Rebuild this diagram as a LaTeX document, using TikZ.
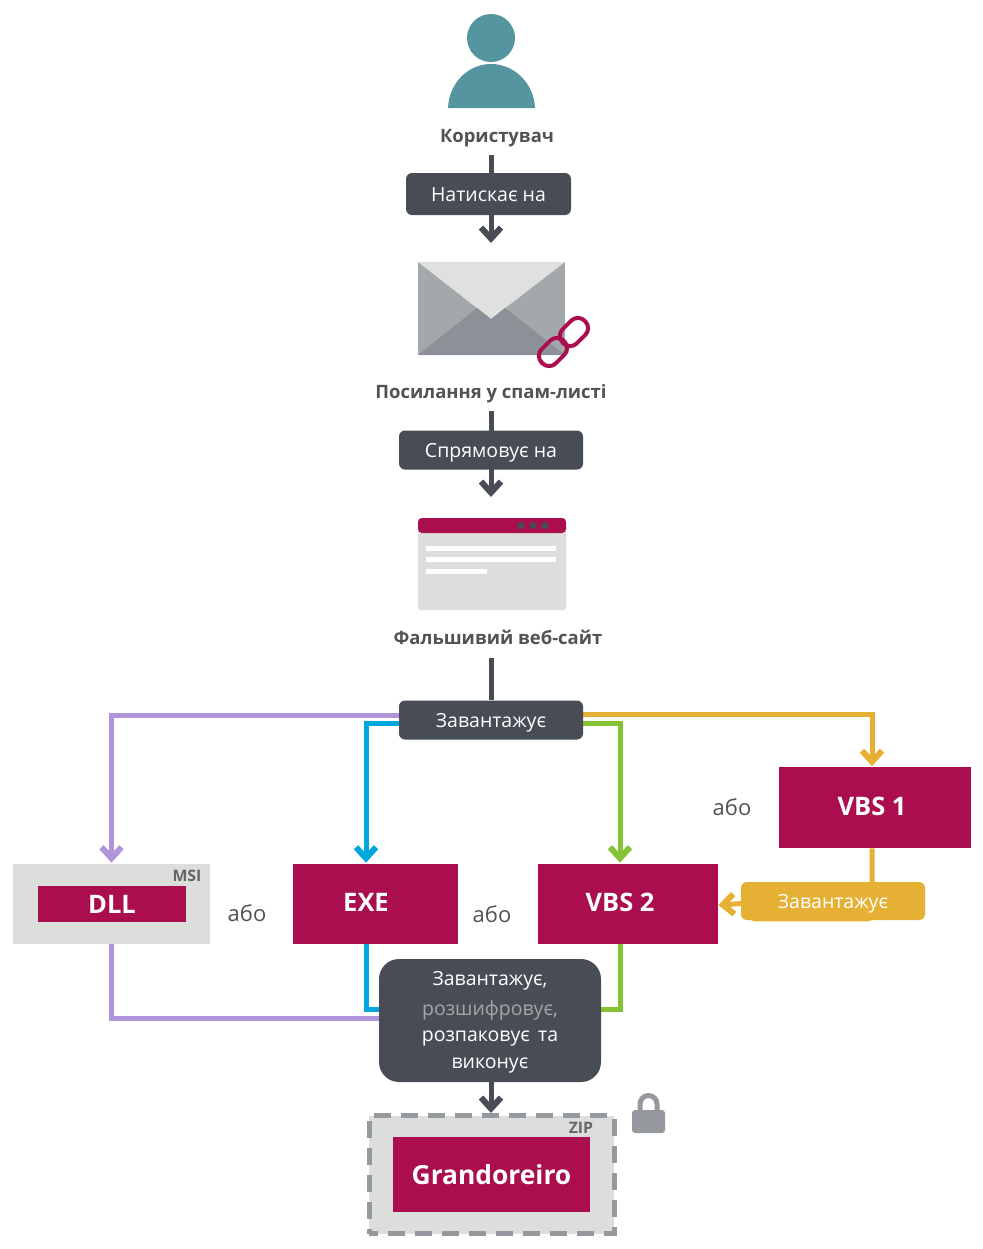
\documentclass[tikz,border=0pt]{standalone}
\usepackage{fontspec}
\setmainfont{Open Sans}
\usetikzlibrary{arrows.meta,backgrounds,calc}

\definecolor{darkpill}{HTML}{474C55}
\definecolor{crimson}{HTML}{AA0E4E}
\definecolor{paleGrey}{HTML}{DCDEDB}
\definecolor{flapGrey}{HTML}{E0E1DE}
\definecolor{sideGrey}{HTML}{A3A8AB}
\definecolor{lowGrey}{HTML}{8B9197}
\definecolor{lockGrey}{HTML}{95999D}
\definecolor{tealUser}{HTML}{5595A0}
\definecolor{purpleLine}{HTML}{B094DC}
\definecolor{blueLine}{HTML}{00A7DC}
\definecolor{greenLine}{HTML}{84C334}
\definecolor{amberLine}{HTML}{E6B035}

\begin{document}
\begin{tikzpicture}[x=0.02cm,y=-0.02cm]
    % --- Dimensions ---
    \def\px{0.02cm}        % one pixel of the reference
    \def\MidX{491}         % x of the central column

    % --- Styles ---
    \tikzset{
        pill/.style={
            fill=darkpill, text=white, rounded corners=6*\px, inner sep=0pt,
            text height=10pt, text depth=2pt,
            font=\fontsize{11.1}{13}\selectfont
        },
        runline/.style={
            text=white, inner sep=0pt, text height=10pt, text depth=2pt,
            font=\fontsize{11.1}{13}\selectfont
        },
        caption/.style={
            text=black!68, inner sep=0pt, text height=10.2pt, text depth=1.1pt,
            font=\bfseries\fontsize{10.5}{13}\selectfont
        },
        redbox/.style={
            fill=crimson, text=white, inner sep=0pt,
            font=\bfseries\fontsize{14.5}{16}\selectfont
        },
        redname/.style={
            text=white, inner sep=0pt,
            font=\bfseries\fontsize{14.5}{16}\selectfont
        },
        greybox/.style={fill=paleGrey, inner sep=0pt},
        tag/.style={text=black!60, inner sep=0pt, font=\bfseries\fontsize{9}{10}\selectfont},
        ortext/.style={text=black!68, inner sep=0pt, font=\fontsize{12.5}{15}\selectfont},
        flow/.style={
            line width=5*\px,
            -{Straight Barb[length=11*\px,width=20*\px,line width=6*\px]}
        },
        link/.style={line width=5*\px},
        chainlink/.style={
            draw=crimson, line width=4*\px, rounded corners=9.5*\px, inner sep=0pt,
            minimum width=31*\px, minimum height=20*\px
        }
    }

    \useasboundingbox (0,0) rectangle (983,1249);

    % =========================================================
    % 1) USER
    % =========================================================
    \fill[tealUser] (491,38) circle (24);
    \fill[tealUser] (448,108) .. controls (449,83) and (468,64) .. (491,64)
      .. controls (514,64) and (534,83) .. (535,108) -- cycle;
    \node[caption] (userName) at (497,134) {Користувач};
    \node[pill, minimum width=165*\px, minimum height=42*\px] (clickPill) at (488.5,194) {Натискає на};
    \coordinate (clickIn) at (\MidX,155);
    \coordinate (clickOut) at (\MidX,243);

    % =========================================================
    % 2) MAIL WITH LINK
    % =========================================================
    \fill[sideGrey] (418,262) rectangle (565,355);
    \fill[flapGrey] (418,262) -- (565,262) -- (491,319) -- cycle;
    \fill[lowGrey] (418,355) -- (477,308) -- (491,319) -- (505,308) -- (565,355) -- cycle;
    \node[chainlink, rotate=45] (linkLow) at (553,352) {};
    \node[chainlink, rotate=45] (linkHigh) at (574,332) {};
    \node[caption] (mailName) at (491,390) {Посилання у спам-листі};
    \node[pill, minimum width=184*\px, minimum height=39*\px] (sendPill) at (491,450) {Спрямовує на};
    \coordinate (sendIn) at (\MidX,411);
    \coordinate (sendOut) at (\MidX,497);

    % =========================================================
    % 3) FAKE WEBSITE
    % =========================================================
    \fill[paleGrey, rounded corners=3*\px] (418,518) rectangle (566,610);
    \fill[crimson, rounded corners=4*\px] (418,518) rectangle (566,533);
    \foreach \dotx in {521,533,545} {
      \fill[darkpill] (\dotx,525.5) circle (3.6);
    }
    \fill[white] (426,546) rectangle (556,551);
    \fill[white] (426,557) rectangle (556,562);
    \fill[white] (426,569) rectangle (487,573.5);
    \node[caption] (siteName) at (498,636) {Фальшивий веб-сайт};
    \node[pill, minimum width=184*\px, minimum height=39*\px] (loadPill) at (491,720) {Завантажує};
    \coordinate (loadIn) at (\MidX,658);

    % =========================================================
    % 4) DOWNLOADED FILES
    % =========================================================
    \node[greybox, minimum width=197*\px, minimum height=80*\px] (dllBox) at (111.5,904) {};
    \node[redbox, minimum width=148*\px, minimum height=36*\px] (dllName) at (112,904) {DLL};
    \node[tag] (msiTag) at (187,876) {MSI};
    \node[redbox, minimum width=165*\px, minimum height=80*\px] (exeBox) at (375.5,904) {};
    \node[redbox, minimum width=180*\px, minimum height=80*\px] (vbsTwo) at (628,904) {};
    \node[redbox, minimum width=192*\px, minimum height=81*\px] (vbsOne) at (875,807.5) {};
    \node[redname] (exeName) at (366,902) {EXE};
    \node[redname] (vbsTwoName) at (620,902) {VBS 2};
    \node[redname] (vbsOneName) at (872,806) {VBS 1};
    \node[ortext] (orA) at (247,913) {або};
    \node[ortext] (orB) at (492,914) {або};
    \node[ortext] (orC) at (732,807) {або};
    \node[pill, fill=amberLine, minimum width=184*\px, minimum height=38*\px] (amberPill) at (833,901) {Завантажує};

    % =========================================================
    % 5) RUN STEP AND ZIP
    % =========================================================
    \node[pill, rounded corners=20*\px, minimum width=222*\px, minimum height=123*\px] (runPill) at (490,1020.5) {};
    \node[runline] (runA) at (490,978) {Завантажує,};
    \node[runline, text=black!35] (runB) at (490,1008) {розшифровує,};
    \node[runline] (runC) at (490,1034) {розпаковує\, та};
    \node[runline] (runD) at (490,1061) {виконує};
    \coordinate (runOut) at (\MidX,1113);

    \node[greybox, draw=lockGrey, line width=5*\px, dash pattern=on 17*\px off 10*\px, dash phase=8*\px,
      minimum width=245*\px, minimum height=118*\px] (zipBox) at (491.5,1174.5) {};
    \node[redbox, minimum width=197*\px, minimum height=75*\px,
      font=\bfseries\fontsize{15}{18}\selectfont] (grandoName) at (491.5,1174.5) {Grandoreiro};
    \node[tag] (zipTag) at (581,1128) {ZIP};

    % lock
    \draw[lockGrey, line width=5*\px] (640,1112) -- (640,1104) arc[start angle=180, end angle=360, radius=8.5] -- (657,1112);
    \fill[lockGrey, rounded corners=3*\px] (632,1110) rectangle (665,1133);

    % =========================================================
    % 6) CONNECTORS (under the pills)
    % =========================================================
    \begin{scope}[on background layer]
      \draw[flow, darkpill] (clickIn) -- (clickOut);
      \draw[flow, darkpill] (sendIn) -- (sendOut);
      \draw[link, darkpill] (loadIn) -- (loadIn |- loadPill.north);
      \draw[flow, darkpill] (runPill.south -| runOut) -- (runOut);

      \draw[flow, purpleLine] ([yshift=-15*\px]loadPill.north west) -| ([yshift=1*\px]dllBox.north);
      \draw[flow, blueLine] ($(loadPill.north west)!0.58!(loadPill.south west)$) -| ([xshift=-9.5*\px,yshift=1*\px]exeBox.north);
      \draw[flow, greenLine] ($(loadPill.north east)!0.58!(loadPill.south east)$) -| ([xshift=-8*\px,yshift=1*\px]vbsTwo.north);
      \draw[flow, amberLine] ([yshift=-14*\px]loadPill.north east) -| ([xshift=-3*\px,yshift=0.5*\px]vbsOne.north);

      \draw[link, purpleLine] (dllBox.south) |- ($(runPill.north west)!0.48!(runPill.south west)$);
      \draw[link, blueLine] ([xshift=-9.5*\px]exeBox.south) |- ($(runPill.north west)!0.415!(runPill.south west)$);
      \draw[link, greenLine] ([xshift=-8*\px]vbsTwo.south) |- ($(runPill.north east)!0.415!(runPill.south east)$);

      \draw[flow, amberLine, rounded corners=4*\px] ([xshift=-3*\px]vbsOne.south) |- ([xshift=10*\px,yshift=1.5*\px]amberPill.south west)
        -- ([xshift=10*\px,yshift=-2*\px]amberPill.west) -- ([yshift=-1*\px]vbsTwo.east);
    \end{scope}
\end{tikzpicture}
\end{document}
